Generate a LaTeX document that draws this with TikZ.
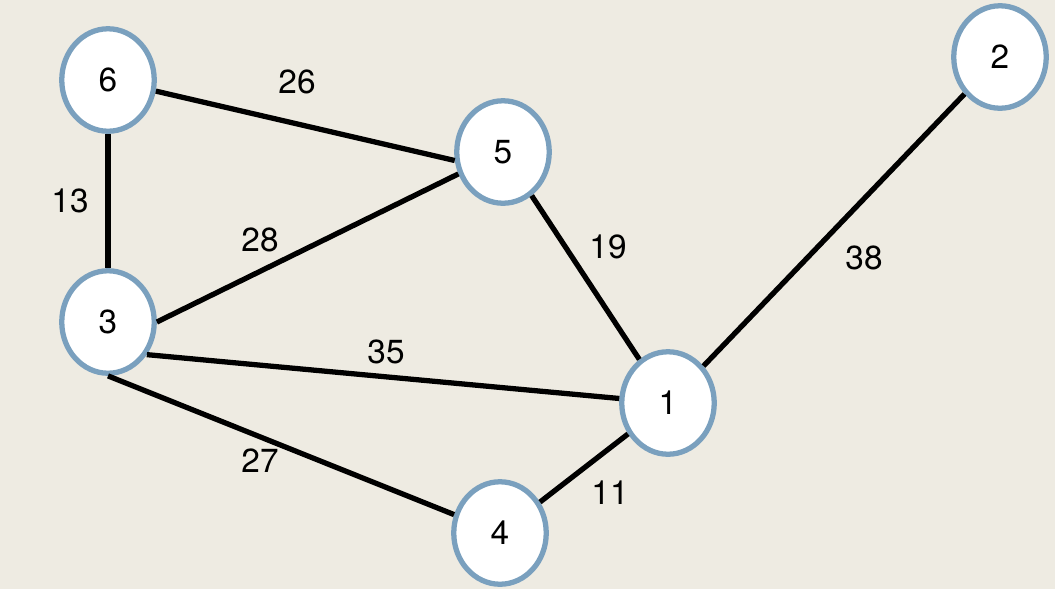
\documentclass[tikz,border=0pt]{standalone}
\usepackage{fontspec}
\setmainfont{TeX Gyre Heros}
\usetikzlibrary{shapes.geometric}
\definecolor{bgcol}{RGB}{238,235,226}
\definecolor{ringcol}{RGB}{122,160,190}
\begin{document}
\begin{tikzpicture}[
    x=0.02cm, y=-0.02cm,
    vertex/.style={
      ellipse,
      draw=ringcol,
      fill=white,
      line width=3pt,
      minimum width=1.85cm,
      minimum height=2.05cm,
      font=\fontsize{19}{22}\selectfont
    },
    link/.style={line width=3pt},
    weight/.style={font=\fontsize{19}{22}\selectfont}
  ]
  \fill[bgcol] (0,0) rectangle (1055,589);
  \useasboundingbox (0,0) rectangle (1055,589);
  \node[vertex] (n6) at (108,80) {6};
  \node[vertex] (n5) at (503,152) {5};
  \node[vertex] (n2) at (1000,57) {2};
  \node[vertex] (n3) at (108,322) {3};
  \node[vertex] (n1) at (668,403) {1};
  \node[vertex] (n4) at (500,533) {4};
  \draw[link] (n6) -- (n5.190);
  \draw[link] (n6) -- (n3);
  \draw[link] (n3.0) -- (n5);
  \draw[link] (n5) -- (n1);
  \draw[link] (n2) -- (n1);
  \draw[link] (n3.-40) -- (n1);
  \draw[link] (n3.south) -- (n4);
  \draw[link] (n4) -- (n1);
  \node[weight] (w26) at (297,82) {26};
  \node[weight] (w13) at (70,201) {13};
  \node[weight] (w28) at (260,240) {28};
  \node[weight] (w19) at (608,247) {19};
  \node[weight] (w38) at (864,258) {38};
  \node[weight] (w35) at (386,352) {35};
  \node[weight] (w27) at (260,461) {27};
  \node[weight] (w11) at (610,493) {11};
\end{tikzpicture}
\end{document}
